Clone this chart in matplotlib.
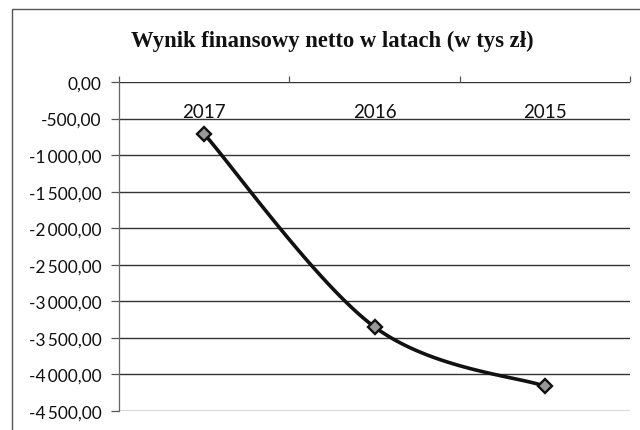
import numpy as np
import matplotlib
matplotlib.use("Agg")
import matplotlib.pyplot as plt
from matplotlib.patches import Rectangle
from matplotlib.ticker import FixedLocator, FuncFormatter
import matplotlib.transforms as mtransforms

years = ["2017", "2016", "2015"]
wynik = [-710.0, -3350.0, -4160.0]
yticks = [0, -500, -1000, -1500, -2000, -2500, -3000, -3500, -4000, -4500]
title = "Wynik finansowy netto w latach (w tys zł)"

lab_font = ["Lato", "DejaVu Sans"]

fig = plt.figure(figsize=(6.4, 4.31), dpi=100)
ax = fig.add_axes([119/640, 1-412/431, (630-119)/640, (412-83)/431])

# chart frame (cut off on right/bottom like the scan)
fig.patches.append(Rectangle((12/640, -0.05), 1.2, 1-10/431+0.05, transform=fig.transFigure,
                             fill=False, edgecolor="#555555", lw=1.0))

x = np.arange(1, len(wynik)+1, dtype=float)
y = np.array(wynik)

# excel-style smoothed line (cubic bezier, catmull-rom control points)
def smooth(xs, ys, n=60):
    P = np.column_stack([xs, ys])
    out = []
    for i in range(len(P)-1):
        p0 = P[i-1] if i > 0 else P[i]
        p3 = P[i+2] if i+2 < len(P) else P[i+1]
        c1 = P[i] + (P[i+1]-p0)/6.0
        c2 = P[i+1] - (p3-P[i])/6.0
        t = np.linspace(0, 1, n)[:, None]
        seg = (1-t)**3*P[i] + 3*(1-t)**2*t*c1 + 3*(1-t)*t**2*c2 + t**3*P[i+1]
        out.append(seg)
    s = np.vstack(out)
    return s[:, 0], s[:, 1]

sx, sy = smooth(x, y)
ax.plot(sx, sy, color="#111111", lw=2.6, solid_capstyle="round", zorder=3)
ax.plot(x, y, linestyle="none", marker="D", markersize=7, markerfacecolor="#999999",
        markeredgecolor="#111111", markeredgewidth=1.7, zorder=4)

ax.set_xlim(0.5, len(wynik)+0.5)
ax.set_ylim(min(yticks), max(yticks))

for v in yticks:
    ax.axhline(v, color="#333333", lw=1.0, zorder=1)

for s in ["top", "right", "bottom"]:
    ax.spines[s].set_visible(False)
ax.spines["left"].set_color("#666666")
ax.spines["left"].set_linewidth(0.9)

ax.yaxis.set_major_locator(FixedLocator(yticks))
ax.yaxis.set_major_formatter(FuncFormatter(
    lambda v, p: ("-" if v < 0 else "") + "{:,.2f}".format(abs(v)).replace(",", "\u2009").replace(".", ",")))
ax.tick_params(axis="y", direction="out", length=5.5, width=0.9, color="#555555", pad=7,
               labelsize=12.5, labelcolor="#111111")
for t in ax.get_yticklabels():
    t.set_family(lab_font)

# category boundaries as tick marks on the top line
ax.xaxis.set_major_locator(FixedLocator(np.arange(0.5, len(wynik)+1, 1.0)))
ax.xaxis.tick_top()
ax.tick_params(axis="x", direction="out", length=4, width=0.9, color="#555555",
               labeltop=False, labelbottom=False)

trans = mtransforms.blended_transform_factory(ax.transData, ax.transAxes)
for xi, yr in zip(x, years):
    ax.text(xi, 1-(118-83)/329, yr, transform=trans, ha="center", va="baseline",
            fontsize=13.5, family=lab_font, color="#111111")

fig.text(332/640, 1-47/431, title, ha="center", va="baseline", fontsize=16.3,
         fontweight="bold", family=["Liberation Serif", "DejaVu Serif"], color="#111111")

fig.savefig("out.png", dpi=100)
